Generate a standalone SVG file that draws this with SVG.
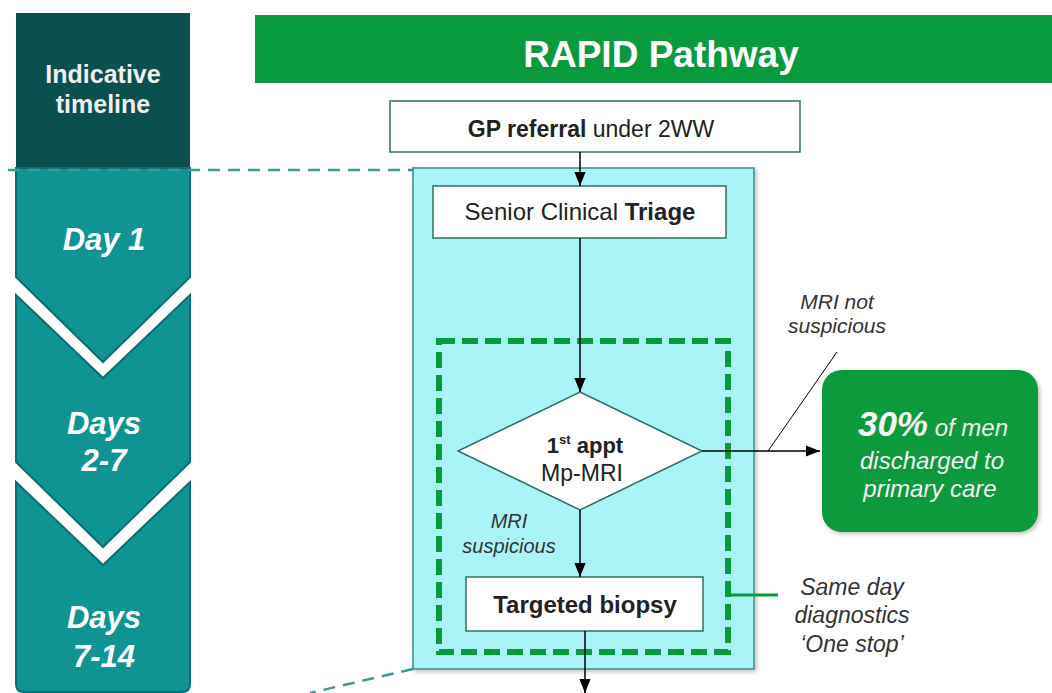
<svg xmlns="http://www.w3.org/2000/svg" width="1052" height="693" viewBox="0 0 1052 693">
<defs>
<style>
text{font-family:"Liberation Sans",Arial,sans-serif}
.tl{fill:#0f9393;stroke:#0b6f70;stroke-width:2}
.tw{fill:#fff;font-weight:bold;font-style:italic;text-anchor:middle}
.box{fill:#fff;stroke:#2f6f66;stroke-width:1.5}
.lbl{fill:#222;text-anchor:middle}
.it{fill:#333;font-style:italic;text-anchor:middle}
.gt{fill:#f4f4f4;font-style:italic;text-anchor:middle}
.edge{stroke:#000;stroke-width:1.5;fill:none}
</style>
<marker id="ah2" viewBox="0 0 10 10" refX="10" refY="5" markerWidth="14" markerHeight="14" markerUnits="userSpaceOnUse" orient="auto">
<path d="M0,1 L10,5 L0,9 Z" fill="#000"/>
</marker>
<filter id="sh" x="-5%" y="-5%" width="110%" height="110%">
<feDropShadow dx="2" dy="2" stdDeviation="2" flood-color="#000" flood-opacity="0.25"/>
</filter>
</defs>
<rect width="1052" height="693" fill="#fff"/>

<g id="timeline">
<rect x="16" y="13" width="174" height="155" fill="#0b4f4f"/>
<text x="103" y="83" fill="#f0f0f0" font-size="25" font-weight="bold" text-anchor="middle">Indicative</text>
<text x="103" y="113" fill="#f0f0f0" font-size="25" font-weight="bold" text-anchor="middle">timeline</text>
<path class="tl" d="M16,168 H190 V277 L103,362 L16,277 Z"/>
<text class="tw" x="104" y="250" font-size="31">Day 1</text>
<path class="tl" d="M16,295 L103,378 L190,295 V462 L103,547 L16,462 Z"/>
<text class="tw" x="104" y="434" font-size="31">Days</text>
<text class="tw" x="104" y="471" font-size="31">2-7</text>
<path class="tl" d="M16,482 L103,565 L190,482 V684 Q190,692 182,692 H24 Q16,692 16,684 Z"/>
<text class="tw" x="104" y="628" font-size="31">Days</text>
<text class="tw" x="104" y="667" font-size="31">7-14</text>
</g>

<g id="header">
<rect x="255" y="15" width="797" height="68" fill="#0a9a3e"/>
<text x="661" y="67" fill="#fff" font-size="37" font-weight="bold" text-anchor="middle">RAPID Pathway</text>
</g>

<g id="guides" fill="none" stroke="#3a9a96" stroke-width="2.5" stroke-dasharray="12,8">
<path d="M8,170 H413"/>
<path d="M413,669 L310,693"/>
</g>

<g id="panel">
<rect x="413" y="168" width="341" height="501" fill="#aaf4f7" stroke="#3b8d8e" stroke-width="1.5" filter="url(#sh)"/>
</g>

<g id="onestop">
<rect x="439" y="341" width="289" height="311" fill="none" stroke="#0a9a3e" stroke-width="6" stroke-dasharray="16,7"/>
</g>

<g id="gp">
<rect class="box" x="390" y="101" width="410" height="51"/>
<text class="lbl" x="591" y="137" font-size="23"><tspan font-weight="bold">GP referral</tspan> under 2WW</text>
</g>

<g id="triage">
<rect class="box" x="433" y="186" width="293" height="52"/>
<text class="lbl" x="580" y="220" font-size="24">Senior Clinical <tspan font-weight="bold">Triage</tspan></text>
</g>

<g id="mri">
<path d="M580,392 L702,451 L580,510 L458,451 Z" fill="#fff" stroke="#2f6f66" stroke-width="1.5"/>
<text class="lbl" x="585" y="453" font-size="22" font-weight="bold">1<tspan font-size="13" dy="-9">st</tspan><tspan dy="9"> appt</tspan></text>
<text class="lbl" x="582" y="481" font-size="23">Mp-MRI</text>
</g>

<g id="biopsy">
<rect class="box" x="466" y="577" width="237" height="54"/>
<text class="lbl" x="585" y="613" font-size="24" font-weight="bold">Targeted biopsy</text>
</g>

<g id="discharge">
<rect x="822" y="370" width="216" height="162" rx="20" fill="#0a9a3e" filter="url(#sh)"/>
<text class="gt" x="933" y="436" font-size="24"><tspan font-size="35" font-weight="bold">30%</tspan> of men</text>
<text class="gt" x="932" y="469" font-size="24">discharged to</text>
<text class="gt" x="930" y="497" font-size="24">primary care</text>
</g>

<g id="connectors">
<path class="edge" d="M580,152 V186" marker-end="url(#ah2)"/>
<path class="edge" d="M580,238 V392" marker-end="url(#ah2)"/>
<path class="edge" d="M580,510 V577" marker-end="url(#ah2)"/>
<path class="edge" d="M585,631 V693" marker-end="url(#ah2)"/>
<path class="edge" d="M702,451 H820" marker-end="url(#ah2)"/>
<path d="M837,352 L768,451" stroke="#000" stroke-width="1" fill="none"/>
<path d="M728,595 H778" stroke="#0a9a3e" stroke-width="3" fill="none"/>
</g>

<g id="labels">
<text class="it" x="509" y="528" font-size="20">MRI</text>
<text class="it" x="509" y="553" font-size="20">suspicious</text>
<text class="it" x="837" y="309" font-size="21">MRI not</text>
<text class="it" x="837" y="333" font-size="21">suspicious</text>
<text class="it" x="852" y="595" font-size="23">Same day</text>
<text class="it" x="852" y="623" font-size="23">diagnostics</text>
<text class="it" x="852" y="652" font-size="23">‘One stop’</text>
</g>
</svg>
